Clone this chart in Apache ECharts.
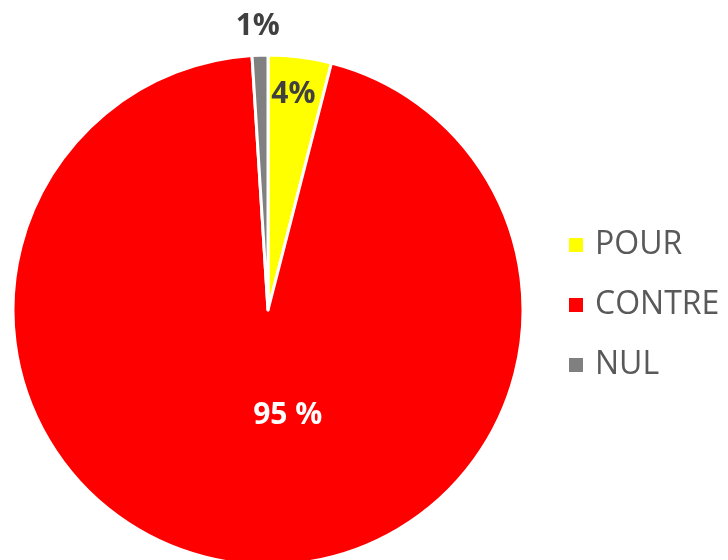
<!DOCTYPE html>
<html><head><meta charset="utf-8">
<script src="https://cdn.jsdelivr.net/npm/echarts@6/dist/echarts.min.js"></script>
<style>html,body{margin:0;padding:0;background:#fff}#c{width:728px;height:560px}</style>
</head><body><div id="c"></div>
<script>
const categories = ['POUR', 'CONTRE', 'NUL'];
const values = [4, 95, 1];
const labelTexts = ['4%', '95 %', '1%'];
const colors = ['#FFFF00', '#FF0000', '#808080'];

const chart = echarts.init(document.getElementById('c'), null, {renderer: 'canvas'});
const labelStyles = [
  {position: 'inside', color: '#404040'},
  {position: 'inside', color: '#FFFFFF'},
  {position: 'outside', color: '#404040'}
];
const shifts = [[9, -86], [32, -24], [25, -25]];
chart.setOption({
  animation: false,
  legend: {
    orient: 'vertical', left: 562, top: 224, icon: 'rect',
    itemWidth: 16, itemHeight: 16, itemGap: 28,
    textStyle: {fontFamily: 'Open Sans', fontSize: 32, color: '#595959', padding: [0, 0, 0, 6]},
    data: categories
  },
  series: [{
    type: 'pie', center: [268, 310], radius: 255, startAngle: 90, clockwise: true,
    itemStyle: {borderColor: '#FFFFFF', borderWidth: 3},
    labelLine: {show: false, length: 4, length2: 0},
    labelLayout: function (p) { const s = shifts[p.dataIndex]; return {dx: s[0], dy: s[1]}; },
    data: categories.map((c, i) => ({
      name: c, value: values[i],
      itemStyle: {color: colors[i]},
      label: Object.assign({show: true, formatter: labelTexts[i], fontFamily: 'Open Sans', fontWeight: 'bold', fontSize: 30}, labelStyles[i])
    }))
  }]
});
</script></body></html>
